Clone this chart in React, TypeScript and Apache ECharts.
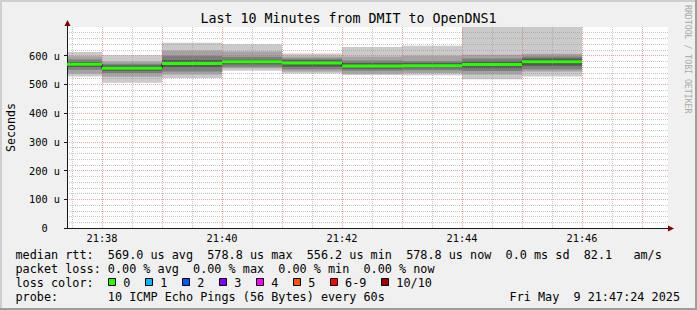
import React, { useEffect, useRef } from 'react';
import * as echarts from 'echarts';

// ---- data (times in minutes after 21:00, values in microseconds) ----
const timeStart = 37 + 25 / 60;
const timeEnd = 47 + 26 / 60;
const segStart = [timeStart, 38, 39, 40, 41, 42, 43, 44, 45];
const segEnd = [38, 39, 40, 41, 42, 43, 44, 45, 46];
const medianUs = [570, 556.2, 573, 578.8, 575, 564, 565, 569, 578.8];
const pingsUs = [
  [528, 537, 551, 561, 566, 574, 578, 587, 598, 613],
  [506, 527, 540, 548, 553, 559, 566, 572, 580, 602],
  [522, 535, 545, 560, 568, 578, 585, 600, 618, 645],
  [548, 556, 562, 570, 575, 582, 586, 596, 615, 640],
  [538, 545, 553, 562, 570, 578, 584, 590, 597, 608],
  [533, 537, 548, 555, 561, 567, 575, 583, 597, 630],
  [532, 540, 549, 556, 562, 568, 575, 582, 600, 635],
  [518, 535, 547, 556, 565, 573, 580, 590, 603, 760],
  [528, 545, 553, 565, 574, 583, 590, 597, 607, 740],
];
const yTicksUs = [0, 100, 200, 300, 400, 500, 600];

const titleText = 'Last 10 Minutes from DMIT to OpenDNS1';
const yAxisName = 'Seconds';
const watermark = 'RRDTOOL / TOBI OETIKER';
const legendLine1 = 'median rtt:  569.0 us avg  578.8 us max  556.2 us min  578.8 us now  0.0 ms sd  82.1   am/s';
const legendLine2 = 'packet loss: 0.00 % avg  0.00 % max  0.00 % min  0.00 % now';
const legendLine3 = 'loss color:';
const legendLine4 = 'probe:       10 ICMP Echo Pings (56 Bytes) every 60s';
const dateText = 'Fri May  9 21:47:24 2025';
const lossLabels = ['0', '1', '2', '3', '4', '5', '6-9', '10/10'];
const lossColors = ['#26ff00', '#00b8ff', '#0059ff', '#7e00ff', '#ff00ff', '#ff5500', '#ff0000', '#a10000'];

// ---- styles ----
const MONO = '"DejaVu Sans Mono", monospace';
const smokeColors = ['#cacaca', '#a4a4a4', '#7e7e7e', '#585858', '#323232'];
const AXIS = '#1a1a1a';
const GRID = 'rgba(143,143,143,0.5)';
const MGRID = 'rgba(222,80,80,0.5)';
const CHAR = 7.12;
const LEG_FONT = 11.8;

export default function App() {
  const ref = useRef<HTMLDivElement>(null);
  useEffect(() => {
    document.body.style.margin = '0';
    const chart = echarts.init(ref.current!, null, { renderer: 'svg' });

    const smokeData: number[][] = [];
    pingsUs.forEach((p, i) => {
      for (let b = 0; b < 5; b++) {
        smokeData.push([segStart[i], segEnd[i], p[b], p[9 - b], b]);
      }
    });
    const medianData = medianUs.map((m, i) => [segStart[i], segEnd[i], m]);
    const stepData = medianUs.map((m, i) => [segStart[i], m]);
    stepData.push([segEnd[segEnd.length - 1], medianUs[medianUs.length - 1]]);

    const clip = (r: any, cs: any) => {
      const x0 = Math.max(r.x, cs.x);
      const y0 = Math.max(r.y, cs.y);
      const x1 = Math.min(r.x + r.width, cs.x + cs.width);
      const y1 = Math.min(r.y + r.height, cs.y + cs.height);
      if (x1 <= x0 || y1 <= y0) return null;
      return { x: x0, y: y0, width: x1 - x0, height: y1 - y0 };
    };

    const graphics: any[] = [
      { type: 'rect', z: -10, shape: { x: 67, y: 27, width: 601, height: 201 }, style: { fill: '#ffffff' } },
      { type: 'rect', shape: { x: 0, y: 0, width: 697, height: 2 }, style: { fill: '#cfcfcf' } },
      { type: 'rect', shape: { x: 0, y: 0, width: 2, height: 310 }, style: { fill: '#cfcfcf' } },
      { type: 'rect', shape: { x: 0, y: 308, width: 697, height: 2 }, style: { fill: '#9e9e9e' } },
      { type: 'rect', shape: { x: 695, y: 0, width: 2, height: 310 }, style: { fill: '#9e9e9e' } },
      { type: 'line', z: 5, shape: { x1: 67.5, y1: 27, x2: 67.5, y2: 23 }, style: { stroke: AXIS, lineWidth: 1 } },
      { type: 'polygon', z: 5, shape: { points: [[64.5, 26], [70.5, 26], [67.5, 20]] }, style: { fill: '#7f0000' } },
      { type: 'line', z: 5, shape: { x1: 668, y1: 228.5, x2: 670, y2: 228.5 }, style: { stroke: AXIS, lineWidth: 1 } },
      { type: 'polygon', z: 5, shape: { points: [[668, 225.5], [668, 231.5], [674, 228.5]] }, style: { fill: '#7f0000' } },
      {
        type: 'text', x: 688, y: 5, rotation: -Math.PI / 2,
        style: { text: watermark, font: `8.2px ${MONO}`, fill: '#a9a9a9', align: 'left', verticalAlign: 'middle' },
      },
    ];
    const rows = [255, 268.5, 282.5, 296.7];
    [legendLine1, legendLine2, legendLine3, legendLine4].forEach((t, i) => {
      graphics.push({
        type: 'text', x: 15.5, y: rows[i],
        style: { text: t, font: `${LEG_FONT}px ${MONO}`, fill: '#000', align: 'left', verticalAlign: 'middle' },
      });
    });
    graphics.push({
      type: 'text', x: 680, y: rows[3],
      style: { text: dateText, font: `${LEG_FONT}px ${MONO}`, fill: '#000', align: 'right', verticalAlign: 'middle' },
    });
    let bx = 108.3;
    lossLabels.forEach((lab, i) => {
      const xr = Math.round(bx) + 0.5;
      graphics.push({
        type: 'rect', shape: { x: xr, y: 278.5, width: 7, height: 7 },
        style: { fill: lossColors[i], stroke: '#000', lineWidth: 1 },
      });
      graphics.push({
        type: 'text', x: bx + 15, y: rows[2],
        style: { text: lab, font: `${LEG_FONT}px ${MONO}`, fill: '#000', align: 'left', verticalAlign: 'middle' },
      });
      bx = bx + 15 + lab.length * CHAR + 14.85;
    });

    const xLabelFmt = (v: number) => {
      const m = Math.round(v);
      if (Math.abs(v - m) > 1e-6 || m % 2 !== 0) return '';
      return `21:${m}`;
    };

    const option: any = {
      animation: false,
      backgroundColor: '#f0f0f0',
      title: {
        text: titleText, left: 'center', top: 12, padding: 0,
        textStyle: { fontFamily: MONO, fontSize: 13.3, fontWeight: 'normal', color: '#000' },
      },
      grid: { left: 67, right: 29, top: 27, bottom: 82, outerBoundsMode: 'none', containLabel: false },
      xAxis: [
        {
          type: 'value', min: timeStart, max: timeEnd, splitNumber: 10,
          axisLine: { show: true, lineStyle: { color: AXIS, width: 1 } },
          axisTick: { show: false },
          axisLabel: {
            formatter: xLabelFmt, fontFamily: MONO, fontSize: 10.3, color: '#000', margin: 5,
            showMinLabel: false, showMaxLabel: false, hideOverlap: false,
          },
          splitLine: { show: true, showMinLine: false, showMaxLine: false, lineStyle: { color: MGRID, type: [1, 1], width: 1 } },
        },
        {
          type: 'value', min: timeStart - 0.5, max: timeEnd - 0.5, splitNumber: 10, position: 'top',
          axisLine: { show: false }, axisTick: { show: false }, axisLabel: { show: false },
          splitLine: { show: true, showMinLine: false, showMaxLine: false, lineStyle: { color: GRID, type: [1, 1], width: 1 } },
        },
      ],
      yAxis: {
        type: 'value', min: 0, max: 700, interval: 100,
        name: yAxisName, nameLocation: 'middle', nameGap: 50,
        nameTextStyle: { fontFamily: MONO, fontSize: 11.6, color: '#000' },
        axisLine: { show: true, lineStyle: { color: AXIS, width: 1 } },
        axisTick: { show: true, length: 3, lineStyle: { color: AXIS } },
        axisLabel: {
          fontFamily: MONO, fontSize: 10.3, color: '#000', margin: 7, showMaxLabel: false,
          formatter: (v: number) => (yTicksUs.includes(v) ? (v === 0 ? '{z|0}' : `${v} u`) : ''),
          rich: { z: { fontFamily: MONO, fontSize: 10.3, color: '#000', padding: [0, 12.4, 0, 0] } },
        },
        splitLine: { show: true, showMinLine: false, showMaxLine: false, lineStyle: { color: MGRID, type: [1, 1], width: 1 } },
        minorTick: { show: false, splitNumber: 5 },
        minorSplitLine: { show: true, lineStyle: { color: GRID, type: [1, 1], width: 1 } },
      },
      graphic: graphics,
      series: [
        {
          type: 'custom', name: 'smoke', z: -1, xAxisIndex: 0,
          encode: { x: [0, 1], y: [2, 3] },
          data: smokeData,
          renderItem: (params: any, api: any) => {
            const p0 = api.coord([api.value(0), api.value(3)]);
            const p1 = api.coord([api.value(1), api.value(2)]);
            const r = clip({ x: p0[0], y: p0[1], width: p1[0] - p0[0], height: p1[1] - p0[1] }, params.coordSys);
            if (!r) return null;
            return { type: 'rect', shape: r, style: { fill: smokeColors[api.value(4)] } };
          },
        },
        {
          type: 'line', name: 'median step', step: 'end', z: 2, xAxisIndex: 0,
          data: stepData, symbol: 'none', silent: true,
          lineStyle: { color: '#000', width: 1 },
        },
        {
          type: 'custom', name: 'median', z: 3, xAxisIndex: 0,
          encode: { x: [0, 1], y: 2 },
          data: medianData,
          renderItem: (params: any, api: any) => {
            const p0 = api.coord([api.value(0), api.value(2)]);
            const p1 = api.coord([api.value(1), api.value(2)]);
            return {
              type: 'rect',
              shape: { x: p0[0], y: p0[1] - 1.5, width: p1[0] - p0[0], height: 3 },
              style: { fill: lossColors[0] },
            };
          },
        },
      ],
    };
    chart.setOption(option);
    return () => chart.dispose();
  }, []);
  return <div ref={ref} style={{ position: 'fixed', left: 0, top: 0, width: 697, height: 310 }} />;
}
